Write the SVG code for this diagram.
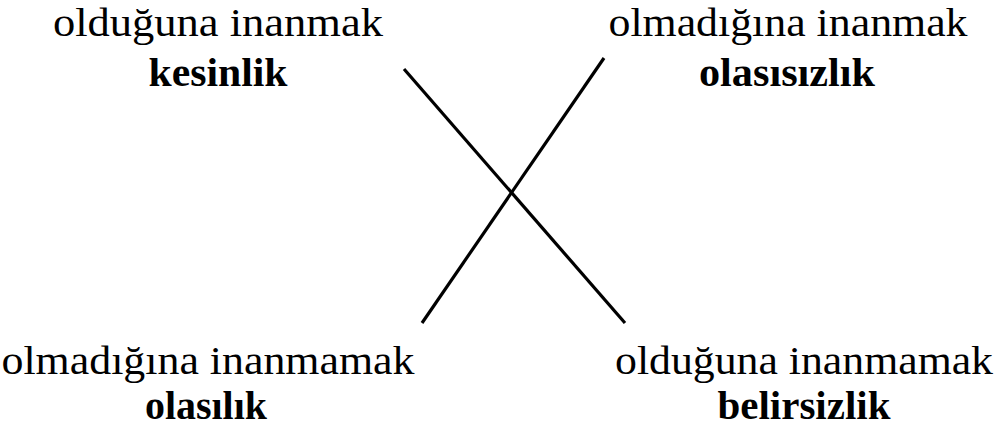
<svg xmlns="http://www.w3.org/2000/svg" width="1000" height="428" viewBox="0 0 1000 428">
<style>
.r{font-family:"Liberation Serif","DejaVu Serif",serif;font-size:40px;fill:#000;text-anchor:middle}
.b{font-family:"Liberation Serif","DejaVu Serif",serif;font-size:40px;font-weight:bold;fill:#000;text-anchor:middle}
.ln{stroke:#000;stroke-width:3.2;fill:none}
</style>
<rect width="1000" height="428" fill="#fff"/>
<g id="connectors">
<line class="ln" x1="404" y1="69" x2="625" y2="323"/>
<line class="ln" x1="604" y1="58" x2="422" y2="323"/>
</g>
<g id="kesinlik">
<text class="r" x="218" y="36" textLength="330" lengthAdjust="spacingAndGlyphs">olduğuna inanmak</text>
<text class="b" x="218" y="86" textLength="139" lengthAdjust="spacingAndGlyphs">kesinlik</text>
</g>
<g id="olasisizlik">
<text class="r" x="788" y="36" textLength="359" lengthAdjust="spacingAndGlyphs">olmadığına inanmak</text>
<text class="b" x="787" y="86" textLength="176" lengthAdjust="spacingAndGlyphs">olasısızlık</text>
</g>
<g id="olasilik">
<text class="r" x="208" y="374" textLength="413" lengthAdjust="spacingAndGlyphs">olmadığına inanmamak</text>
<text class="b" x="206" y="419" textLength="122" lengthAdjust="spacingAndGlyphs">olasılık</text>
</g>
<g id="belirsizlik">
<text class="r" x="804" y="374" textLength="378" lengthAdjust="spacingAndGlyphs">olduğuna inanmamak</text>
<text class="b" x="804" y="419" textLength="173" lengthAdjust="spacingAndGlyphs">belirsizlik</text>
</g>
</svg>
